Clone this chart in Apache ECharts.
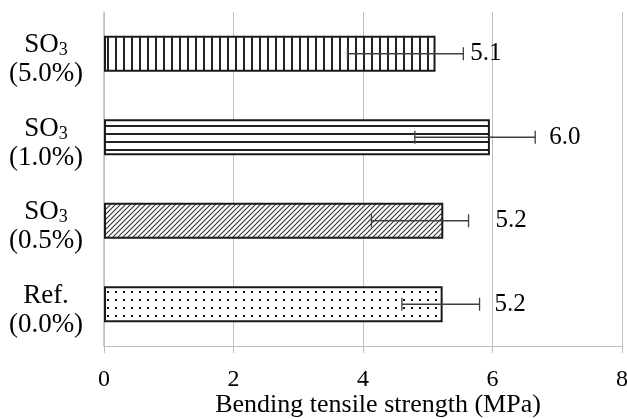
<!DOCTYPE html>
<html>
<head>
<meta charset="utf-8">
<script src="https://cdn.jsdelivr.net/npm/echarts@6/dist/echarts.min.js"></script>
<style>
  html, body { margin: 0; padding: 0; background: #fff; }
  #chart { width: 627px; height: 419px; }
</style>
</head>
<body>
<div id="chart"></div>
<script>
// categories, top to bottom
const catNames = ['SO3', 'SO3', 'SO3', 'Ref.'];
const catShares = ['(5.0%)', '(1.0%)', '(0.5%)', '(0.0%)'];
const strength = [5.12, 5.96, 5.24, 5.23];
const errLow = [3.76, 4.80, 4.13, 4.60];
const errHigh = [5.55, 6.66, 5.63, 5.80];
const xTicks = [0, 2, 4, 6, 8];
const xTitle = 'Bending tensile strength (MPa)';

const serif = '"Liberation Serif", "DejaVu Serif", serif';
const gridGrey = '#bfbfbf';
const ink = '#1a1a1a';
// px gap between error bar end and value label
const labelGap = [7, 14, 27, 15];

function makeTile(w, h, draw) {
  const c = document.createElement('canvas');
  c.width = w; c.height = h;
  const ctx = c.getContext('2d');
  ctx.fillStyle = '#fff';
  ctx.fillRect(0, 0, w, h);
  draw(ctx);
  return { image: c, repeat: 'repeat' };
}

const patterns = [
  makeTile(8, 8, (ctx) => { ctx.fillStyle = '#222'; ctx.fillRect(3, 0, 2, 8); }),
  makeTile(8, 8, (ctx) => { ctx.fillStyle = '#222'; ctx.fillRect(0, 5, 8, 2); }),
  makeTile(5, 5, (ctx) => {
    ctx.strokeStyle = '#333'; ctx.lineWidth = 1.1;
    ctx.beginPath();
    ctx.moveTo(-1, 6); ctx.lineTo(6, -1);
    ctx.moveTo(-1, 1); ctx.lineTo(1, -1);
    ctx.moveTo(4, 6); ctx.lineTo(6, 4);
    ctx.stroke();
  }),
  makeTile(8, 8, (ctx) => { ctx.fillStyle = '#111'; ctx.fillRect(3, 3, 2, 2); })
];

const chart = echarts.init(document.getElementById('chart'), null, { renderer: 'canvas' });

const option = {
  animation: false,
  grid: { left: 104, right: 5, top: 12, bottom: 73, outerBoundsMode: 'none', containLabel: false },
  xAxis: {
    type: 'value',
    min: xTicks[0],
    max: xTicks[xTicks.length - 1],
    interval: 2,
    name: xTitle,
    nameLocation: 'middle',
    nameGap: 46,
    nameMoveOverlap: false,
    nameTextStyle: { fontFamily: serif, fontSize: 26, color: '#000', padding: [0, 0, 0, 30] },
    axisLine: { show: true, lineStyle: { color: gridGrey, width: 1 } },
    axisTick: { show: true, length: 7, lineStyle: { color: gridGrey } },
    axisLabel: { fontFamily: serif, fontSize: 24, color: '#000', margin: 22 },
    splitLine: { show: true, lineStyle: { color: gridGrey, width: 1 } }
  },
  yAxis: {
    type: 'category',
    inverse: true,
    data: catNames.map((n, i) => n + '|' + catShares[i]),
    axisLine: { show: true, lineStyle: { color: gridGrey, width: 1.5 } },
    axisTick: { show: false },
    splitLine: { show: false },
    axisLabel: {
      align: 'center',
      margin: 58,
      padding: [12, 0, 0, 0],
      formatter: (v) => {
        const [name, share] = v.split('|');
        const top = name === 'SO3' ? '{a|SO}{s|3}' : '{a|' + name + '}';
        return top + '\n{a|' + share + '}';
      },
      rich: {
        a: { fontFamily: serif, fontSize: 27, color: '#000', lineHeight: 29 },
        s: { fontFamily: serif, fontSize: 18, color: '#000', lineHeight: 29, verticalAlign: 'bottom' }
      }
    }
  },
  series: [
    {
      type: 'bar',
      barWidth: 36,
      data: strength.map((v, i) => ({
        value: v,
        itemStyle: { color: patterns[i], borderColor: ink, borderWidth: 2 }
      })),
      z: 2
    },
    {
      type: 'custom',
      z: 3,
      data: strength.map((v, i) => [i, errLow[i], errHigh[i], v]),
      renderItem: (params, api) => {
        const idx = api.value(0);
        const lo = api.coord([api.value(1), idx]);
        const hi = api.coord([api.value(2), idx]);
        const y = lo[1];
        const cap = 6.5;
        const line = { stroke: '#404040', lineWidth: 1.3 };
        return {
          type: 'group',
          children: [
            { type: 'line', shape: { x1: lo[0], y1: y, x2: hi[0], y2: y }, style: line },
            { type: 'line', shape: { x1: lo[0], y1: y - cap, x2: lo[0], y2: y + cap }, style: line },
            { type: 'line', shape: { x1: hi[0], y1: y - cap, x2: hi[0], y2: y + cap }, style: line },
            {
              type: 'text',
              style: {
                x: hi[0] + labelGap[idx],
                y: y,
                text: api.value(3).toFixed(1),
                fontFamily: serif,
                fontSize: 25,
                fill: '#000',
                align: 'left',
                verticalAlign: 'middle'
              }
            }
          ]
        };
      }
    }
  ]
};

chart.setOption(option);
</script>
</body>
</html>
